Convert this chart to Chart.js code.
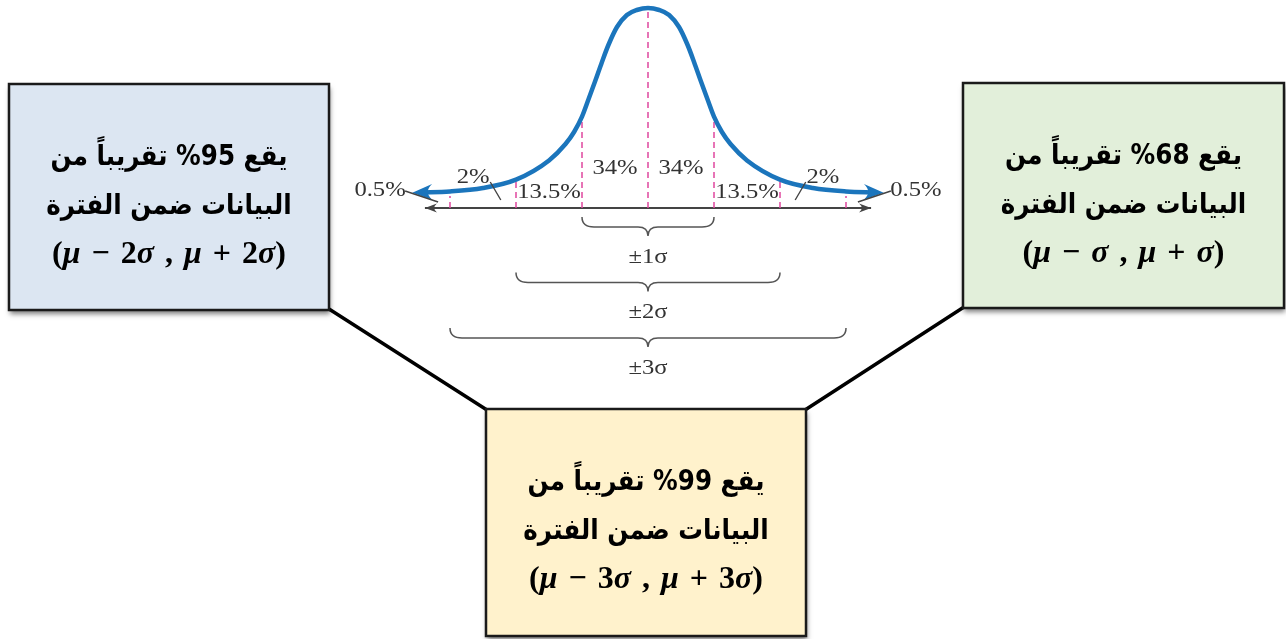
<!DOCTYPE html>
<html>
<head>
<meta charset="utf-8">
<script src="https://cdn.jsdelivr.net/npm/chart.js@4.4.1/dist/chart.umd.min.js"></script>
<style>
  html, body { margin: 0; padding: 0; background: #fff; overflow: hidden; }
  #wrap { width: 1286px; height: 639px; position: relative; }
</style>
</head>
<body>
<div id="wrap"><canvas id="bell"></canvas></div>
<script>
// curve, x in sigma units, y as share of the peak height
const curveX = [-3.45, -3, -2.5, -2, -1.5, -1.25, -1.12, -1, -0.9, -0.8, -0.7, -0.6, -0.47, -0.32, -0.17, 0,
                0.17, 0.32, 0.47, 0.6, 0.7, 0.8, 0.9, 1, 1.12, 1.25, 1.5, 2, 2.5, 3, 3.45];
const curveY = [0.078, 0.083, 0.10, 0.142, 0.238, 0.32, 0.38, 0.457, 0.545, 0.635, 0.728, 0.815, 0.905, 0.965, 0.99, 1,
                0.99, 0.965, 0.905, 0.815, 0.728, 0.635, 0.545, 0.457, 0.38, 0.32, 0.238, 0.142, 0.10, 0.083, 0.078];

// dashed marks at each sigma
const sigmaMarks = [-3, -2, -1, 0, 1, 2, 3];
const markHeights = [0.06, 0.13, 0.433, 1, 0.433, 0.13, 0.06];

const areaLabels = ['0.5%', '2%', '13.5%', '34%', '34%', '13.5%', '2%', '0.5%'];
const rangeLabels = ['±1σ', '±2σ', '±3σ'];
const rangeSigmas = [1, 2, 3];

// boxes: left, right, bottom
const boxPercents = ['95%', '68%', '99%'];
const boxRanges = ['(μ − 2σ , μ + 2σ)', '(μ − σ , μ + σ)', '(μ − 3σ , μ + 3σ)'];
const boxColors = ['#dce6f2', '#e2efda', '#fff2cc'];

const axisEnd = 3.38;

function arrowHead(ctx, x, y, ang, len, half, color) {
  ctx.save();
  ctx.translate(x, y);
  ctx.rotate(ang);
  ctx.fillStyle = color;
  ctx.beginPath();
  ctx.moveTo(0, 0);
  ctx.lineTo(-len, -half);
  ctx.quadraticCurveTo(-len * 0.55, 0, -len, half);
  ctx.closePath();
  ctx.fill();
  ctx.restore();
}

// greek letters italic, the rest upright, wide spaces like the math font in the boxes
function mathLine(ctx, text, cx, y) {
  const up = 'bold 32px "Liberation Serif"';
  const it = 'bold italic 32px "Liberation Serif"';
  const chars = [...text].map(ch => ({ ch: ch, f: /[μσ]/.test(ch) ? it : up }));
  let total = 0;
  chars.forEach(c => {
    ctx.font = c.f;
    c.w = c.ch === ' ' ? 11 : ctx.measureText(c.ch).width;
    total += c.w;
  });
  let x = cx - total / 2;
  ctx.textAlign = 'left';
  chars.forEach(c => { ctx.font = c.f; if (c.ch !== ' ') ctx.fillText(c.ch, x, y); x += c.w; });
}

function arabicText(ctx, t, x, y) {
  ctx.save();
  ctx.translate(x, y);
  ctx.scale(0.88, 1);
  ctx.fillText(t, 0, 0);
  ctx.restore();
}

function serifText(ctx, t, x, y) {
  ctx.save();
  ctx.translate(x, y);
  ctx.scale(1.12, 1);
  ctx.fillText(t, 0, 0);
  ctx.restore();
}

const diagram = {
  id: 'diagram',
  beforeDatasetsDraw(chart) {
    const ctx = chart.ctx;
    // connector lines behind the boxes
    ctx.save();
    ctx.strokeStyle = '#000';
    ctx.lineWidth = 3.5;
    ctx.beginPath();
    ctx.moveTo(329, 309); ctx.lineTo(487, 410);
    ctx.moveTo(964, 307); ctx.lineTo(805, 410);
    ctx.stroke();

    const rects = [[9, 84, 320, 226], [963, 83, 321, 225], [486, 409, 320, 227]];
    rects.forEach((r, i) => {
      ctx.save();
      ctx.shadowColor = 'rgba(0,0,0,0.5)';
      ctx.shadowBlur = 5;
      ctx.shadowOffsetX = 1;
      ctx.shadowOffsetY = 4;
      ctx.fillStyle = boxColors[i];
      ctx.fillRect(r[0], r[1], r[2], r[3]);
      ctx.restore();
      ctx.strokeStyle = '#1a1a1a';
      ctx.lineWidth = 2.5;
      ctx.strokeRect(r[0], r[1], r[2], r[3]);

      const cx = r[0] + r[2] / 2;
      ctx.fillStyle = '#000';
      ctx.textAlign = 'center';
      ctx.textBaseline = 'middle';
      ctx.direction = 'rtl';
      ctx.font = 'bold 28px "DejaVu Sans"';
      arabicText(ctx, 'يقع ' + boxPercents[i] + ' تقريباً من', cx, r[1] + 74);
      arabicText(ctx, 'البيانات ضمن الفترة', cx, r[1] + 123);
      ctx.direction = 'ltr';
      mathLine(ctx, boxRanges[i], cx, r[1] + 171);
    });
    ctx.restore();
  },
  afterDatasetsDraw(chart) {
    const ctx = chart.ctx;
    const xs = chart.scales.x, ys = chart.scales.y;
    const px = v => xs.getPixelForValue(v);
    const py = v => ys.getPixelForValue(v);
    const y0 = py(0);
    ctx.save();

    // axis arrow heads
    arrowHead(ctx, px(-axisEnd), y0, Math.PI, 12, 4.5, '#444');
    arrowHead(ctx, px(axisEnd), y0, 0, 12, 4.5, '#444');

    // curve arrow heads
    const pts = chart.getDatasetMeta(chart.data.datasets.length - 1).data;
    [[pts[0], pts[1]], [pts[pts.length - 1], pts[pts.length - 2]]].forEach(([a, b]) => {
      const ang = Math.atan2(a.y - b.y, a.x - b.x);
      arrowHead(ctx, a.x + Math.cos(ang) * 8, a.y + Math.sin(ang) * 8, ang, 20, 8, '#1b75bc');
    });

    // leader lines for the small areas
    ctx.strokeStyle = '#444';
    ctx.lineWidth = 1.4;
    ctx.beginPath();
    [-1, 1].forEach(s => {
      ctx.moveTo(px(s * 3.68), py(0.085)); ctx.lineTo(px(s * 3.18), py(0.03));
      ctx.moveTo(px(s * 2.39), py(0.13)); ctx.lineTo(px(s * 2.23), py(0.04));
    });
    ctx.stroke();

    // area labels
    const spots = [[-4.06, 0.09], [-2.65, 0.155], [-1.5, 0.08], [-0.5, 0.2],
                   [0.5, 0.2], [1.5, 0.08], [2.65, 0.155], [4.06, 0.09]];
    ctx.fillStyle = '#333';
    ctx.font = '22px "Liberation Serif"';
    ctx.textAlign = 'center';
    ctx.textBaseline = 'middle';
    areaLabels.forEach((t, i) => serifText(ctx, t, px(spots[i][0]), py(spots[i][1])));

    // braces with range labels
    ctx.strokeStyle = '#555';
    ctx.lineWidth = 1.5;
    rangeSigmas.forEach((k, i) => {
      const top = y0 + 9 + i * 55.5;
      const mid = top + 10, tip = top + 19;
      const x1 = px(-k), x2 = px(k), c = px(0);
      ctx.beginPath();
      ctx.moveTo(x1, top);
      ctx.quadraticCurveTo(x1, mid, x1 + 12, mid);
      ctx.lineTo(c - 10, mid);
      ctx.quadraticCurveTo(c, mid, c, tip);
      ctx.quadraticCurveTo(c, mid, c + 10, mid);
      ctx.lineTo(x2 - 12, mid);
      ctx.quadraticCurveTo(x2, mid, x2, top);
      ctx.stroke();
      serifText(ctx, rangeLabels[i], c, top + 40);
    });
    ctx.restore();
  }
};

const markSets = sigmaMarks.map((s, i) => ({
  data: [{ x: s, y: 0 }, { x: s, y: markHeights[i] }],
  borderColor: '#e0479e',
  borderWidth: 1.5,
  borderDash: [6, 4],
  pointRadius: 0,
  order: 2
}));

const axisSet = {
  data: [{ x: -axisEnd, y: 0 }, { x: axisEnd, y: 0 }],
  borderColor: '#444',
  borderWidth: 2,
  pointRadius: 0,
  order: 3
};

const curveSet = {
  data: curveX.map((x, i) => ({ x: x, y: curveY[i] })),
  borderColor: '#1b75bc',
  borderWidth: 4.5,
  pointRadius: 0,
  cubicInterpolationMode: 'monotone',
  order: 0
};

new Chart(document.getElementById('bell'), {
  type: 'line',
  data: { datasets: [axisSet, ...markSets, curveSet] },
  options: {
    responsive: true,
    maintainAspectRatio: false,
    animation: false,
    layout: { padding: 0 },
    plugins: { legend: { display: false }, tooltip: { enabled: false } },
    scales: {
      x: { type: 'linear', min: -648 / 66, max: 638 / 66, display: false },
      y: { type: 'linear', min: -431 / 200, max: 208 / 200, display: false }
    }
  },
  plugins: [diagram]
});
</script>
</body>
</html>
